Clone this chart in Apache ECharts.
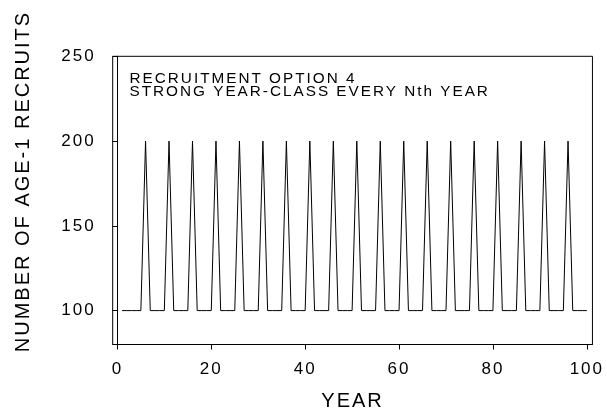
<!DOCTYPE html>
<html><head><meta charset="utf-8">
<script src="https://cdn.jsdelivr.net/npm/echarts@6/dist/echarts.min.js"></script>
<style>html,body{margin:0;padding:0;background:#fff}#c{width:607px;height:417px}</style>
</head><body><div id="c"></div>
<script>
// Data
const years = [1,2,3,4,5,6,7,8,9,10,11,12,13,14,15,16,17,18,19,20,21,22,23,24,25,26,27,28,29,30,31,32,33,34,35,36,37,38,39,40,41,42,43,44,45,46,47,48,49,50,51,52,53,54,55,56,57,58,59,60,61,62,63,64,65,66,67,68,69,70,71,72,73,74,75,76,77,78,79,80,81,82,83,84,85,86,87,88,89,90,91,92,93,94,95,96,97,98,99,100];
const recruits = [100,100,100,100,100,200,100,100,100,100,200,100,100,100,100,200,100,100,100,100,200,100,100,100,100,200,100,100,100,100,200,100,100,100,100,200,100,100,100,100,200,100,100,100,100,200,100,100,100,100,200,100,100,100,100,200,100,100,100,100,200,100,100,100,100,200,100,100,100,100,200,100,100,100,100,200,100,100,100,100,200,100,100,100,100,200,100,100,100,100,200,100,100,100,100,200,100,100,100,100];
const xTicks = [0,20,40,60,80,100];
const yTicks = [100,150,200,250];
const xName = 'YEAR';
const yName = 'NUMBER OF AGE-1 RECRUITS';
const annotation = ['RECRUITMENT OPTION 4','STRONG YEAR-CLASS EVERY Nth YEAR'];

// wide letter spacing like the reference's lettering
(function(){
  const P = CanvasRenderingContext2D.prototype;
  const fT = P.fillText, mT = P.measureText;
  P.fillText = function(){ this.letterSpacing = '2px'; return fT.apply(this, arguments); };
  P.measureText = function(){ this.letterSpacing = '2px'; return mT.apply(this, arguments); };
})();

const chart = echarts.init(document.getElementById('c'), null, {renderer:'canvas'});
const font = 'Liberation Sans, Arial, sans-serif';
chart.setOption({
  animation:false,
  grid:{left:112.7,top:56.3,right:12,bottom:68,show:true,borderColor:'#000',borderWidth:1,backgroundColor:'transparent'},
  xAxis:{type:'value',min:-1,max:101.2,
    name:xName,nameLocation:'middle',nameGap:45.5,
    nameTextStyle:{fontFamily:font,fontSize:20,color:'#000',verticalAlign:'top'},
    axisLine:{show:true,lineStyle:{color:'#000',width:1}},
    axisTick:{show:true,length:5,inside:false,customValues:xTicks,lineStyle:{color:'#000'}},
    axisLabel:{customValues:xTicks,margin:15,fontFamily:font,fontSize:17,color:'#000'},
    splitLine:{show:false}},
  yAxis:{type:'value',min:80,max:250,
    axisLine:{show:true,lineStyle:{color:'#000',width:1}},
    axisTick:{show:true,length:5,customValues:yTicks,lineStyle:{color:'#000'}},
    axisLabel:{customValues:yTicks,margin:17,fontFamily:font,fontSize:17,color:'#000'},
    splitLine:{show:false}},
  graphic:[
    {type:'text',left:129.5,top:70.5,style:{text:annotation.join('\n'),fontFamily:font,fontSize:15.3,lineHeight:13,fill:'#000'}},
    {type:'text',x:23,y:181.5,rotation:Math.PI/2,style:{text:yName,fontFamily:font,fontSize:20,fill:'#000',align:'center',verticalAlign:'middle'}}
  ],
  series:[{type:'line',data:years.map((y,i)=>[y,recruits[i]]),symbol:'none',
    lineStyle:{color:'#000',width:1}}]
});
</script></body></html>
